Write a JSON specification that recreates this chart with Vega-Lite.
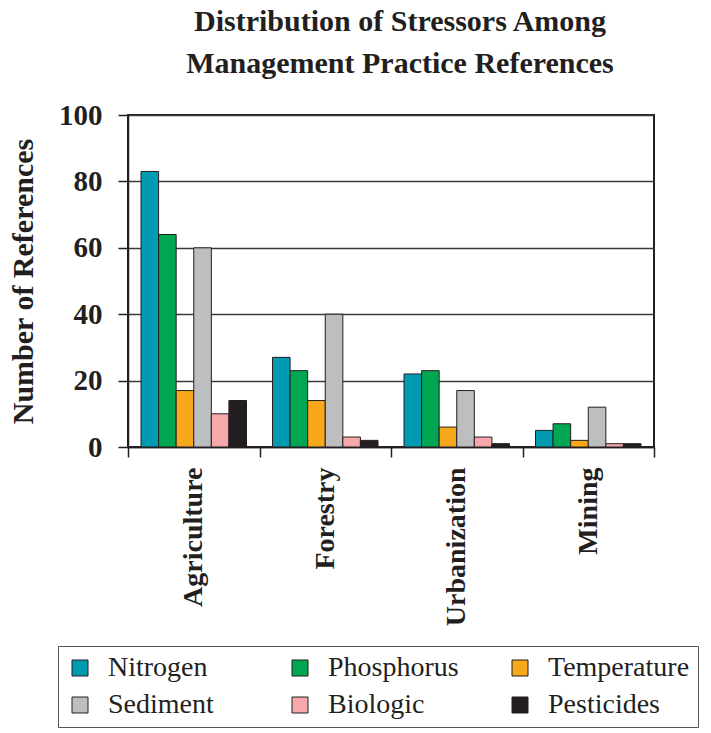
{
  "$schema": "https://vega.github.io/schema/vega-lite/v6.json",
  "autosize": {"type": "none"},
  "padding": {"left": 128, "top": 115, "right": 57, "bottom": 286},
  "width": 526,
  "height": 332,
  "background": "white",
  "title": {
    "text": ["Distribution of Stressors Among", "Management Practice References"],
    "font": "Liberation Serif",
    "fontSize": 30,
    "fontWeight": "bold",
    "color": "#231F20",
    "lineHeight": 42,
    "frame": "group",
    "anchor": "middle",
    "dx": 9,
    "offset": 22
  },
  "data": {
    "values": [
      {"practice": "Agriculture", "stressor": "Nitrogen", "count": 83},
      {"practice": "Agriculture", "stressor": "Phosphorus", "count": 64},
      {"practice": "Agriculture", "stressor": "Temperature", "count": 17},
      {"practice": "Agriculture", "stressor": "Sediment", "count": 60},
      {"practice": "Agriculture", "stressor": "Biologic", "count": 10},
      {"practice": "Agriculture", "stressor": "Pesticides", "count": 14},
      {"practice": "Forestry", "stressor": "Nitrogen", "count": 27},
      {"practice": "Forestry", "stressor": "Phosphorus", "count": 23},
      {"practice": "Forestry", "stressor": "Temperature", "count": 14},
      {"practice": "Forestry", "stressor": "Sediment", "count": 40},
      {"practice": "Forestry", "stressor": "Biologic", "count": 3},
      {"practice": "Forestry", "stressor": "Pesticides", "count": 2},
      {"practice": "Urbanization", "stressor": "Nitrogen", "count": 22},
      {"practice": "Urbanization", "stressor": "Phosphorus", "count": 23},
      {"practice": "Urbanization", "stressor": "Temperature", "count": 6},
      {"practice": "Urbanization", "stressor": "Sediment", "count": 17},
      {"practice": "Urbanization", "stressor": "Biologic", "count": 3},
      {"practice": "Urbanization", "stressor": "Pesticides", "count": 1},
      {"practice": "Mining", "stressor": "Nitrogen", "count": 5},
      {"practice": "Mining", "stressor": "Phosphorus", "count": 7},
      {"practice": "Mining", "stressor": "Temperature", "count": 2},
      {"practice": "Mining", "stressor": "Sediment", "count": 12},
      {"practice": "Mining", "stressor": "Biologic", "count": 1},
      {"practice": "Mining", "stressor": "Pesticides", "count": 1}
    ]
  },
  "mark": {"type": "bar", "stroke": "#231F20", "strokeWidth": 1},
  "encoding": {
    "x": {
      "field": "practice",
      "type": "nominal",
      "sort": ["Agriculture", "Forestry", "Urbanization", "Mining"],
      "scale": {"paddingInner": 0, "paddingOuter": 0},
      "axis": {
        "title": null,
        "labelAngle": -90,
        "labelFont": "Liberation Serif",
        "labelFontSize": 28,
        "labelFontWeight": "bold",
        "labelColor": "#231F20",
        "labelPadding": 10,
        "tickBand": "extent",
        "tickSize": 10,
        "tickColor": "#231F20",
        "tickWidth": 1.5,
        "domainColor": "#231F20",
        "domainWidth": 1.5,
        "grid": false
      }
    },
    "xOffset": {
      "field": "stressor",
      "type": "nominal",
      "sort": ["Nitrogen", "Phosphorus", "Temperature", "Sediment", "Biologic", "Pesticides"],
      "scale": {"paddingInner": 0, "paddingOuter": 0.74}
    },
    "y": {
      "field": "count",
      "type": "quantitative",
      "scale": {"domain": [0, 100], "nice": false},
      "axis": {
        "title": "Number of References",
        "titleFont": "Liberation Serif",
        "titleFontSize": 30,
        "titleFontWeight": "bold",
        "titleColor": "#231F20",
        "titlePadding": 20,
        "values": [0, 20, 40, 60, 80, 100],
        "labelFont": "Liberation Serif",
        "labelFontSize": 29,
        "labelFontWeight": "bold",
        "labelColor": "#231F20",
        "labelPadding": 16,
        "tickSize": 10,
        "tickColor": "#231F20",
        "tickWidth": 1.5,
        "domainColor": "#231F20",
        "domainWidth": 1.5,
        "grid": true,
        "gridColor": "#3a3a3a",
        "gridWidth": 1.5
      }
    },
    "color": {
      "field": "stressor",
      "type": "nominal",
      "sort": ["Nitrogen", "Phosphorus", "Temperature", "Sediment", "Biologic", "Pesticides"],
      "scale": {
        "domain": ["Nitrogen", "Phosphorus", "Temperature", "Sediment", "Biologic", "Pesticides"],
        "range": ["#009BB0", "#00A651", "#F7A81B", "#BCBEC0", "#F7A8AA", "#231F20"]
      },
      "legend": {
        "title": null,
        "orient": "none",
        "direction": "horizontal",
        "legendX": -70,
        "legendY": 531,
        "columns": 3,
        "gridAlign": "all",
        "symbolType": "square",
        "symbolSize": 256,
        "symbolStrokeColor": "#231F20",
        "symbolStrokeWidth": 1,
        "symbolOpacity": 1,
        "labelFont": "Liberation Serif",
        "labelFontSize": 28,
        "labelFontWeight": "normal",
        "labelColor": "#231F20",
        "labelLimit": 220,
        "labelOffset": 14,
        "columnPadding": 36,
        "rowPadding": 9,
        "padding": 8,
        "strokeColor": "#555555"
      }
    }
  },
  "config": {
    "view": {"stroke": "#231F20", "strokeWidth": 2},
    "legend": {"labelFont": "Liberation Serif"}
  }
}
